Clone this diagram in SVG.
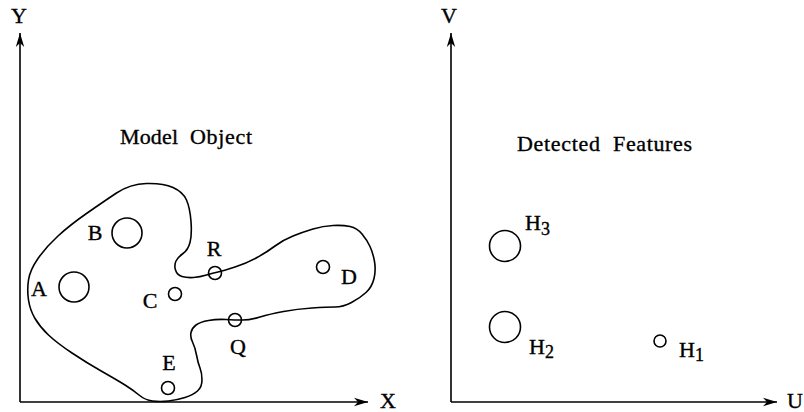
<svg xmlns="http://www.w3.org/2000/svg" width="804" height="412" viewBox="0 0 804 412">
<style>
text{font-family:"Liberation Serif","Times New Roman",serif;fill:#000;stroke:#000;stroke-width:0.35}
.lbl{font-size:22px;text-anchor:middle}
.hl{font-size:22px}
.sub{font-size:18px}
.ttl{font-size:22px}
.ax{stroke:#000;stroke-width:1.6;fill:none}
.c{stroke:#000;stroke-width:1.6;fill:none}
</style>
<defs>
<marker id="arr" markerUnits="userSpaceOnUse" markerWidth="16" markerHeight="12" refX="14" refY="5" orient="auto" viewBox="0 0 16 10">
<path d="M14,5 L0,0.8 L4,5 L0,9.2 Z" fill="#000"/>
</marker>
</defs>
<g id="axes">
<line class="ax" x1="20" y1="402" x2="20" y2="33" marker-end="url(#arr)"/>
<line class="ax" x1="20" y1="402" x2="368" y2="402" marker-end="url(#arr)"/>
<line class="ax" x1="451" y1="402" x2="451" y2="33" marker-end="url(#arr)"/>
<line class="ax" x1="451" y1="402" x2="777" y2="402" marker-end="url(#arr)"/>
<text class="lbl" x="19" y="23">Y</text>
<text class="lbl" x="388" y="408">X</text>
<text class="lbl" x="795" y="408">U</text>
<text class="lbl" x="449" y="23">V</text>
</g>
<g id="model-object">
<path class="c" d="M152.5,401 Q145,400 139,395 Q133,390 125,385 Q117,380 102,371.5 Q87,363 72,353 Q57,343 48.5,335 Q40,327 35,318.5 Q30,310 28.5,300 Q27,290 28.5,280 Q30,270 38,258.5 Q46,247 58,236 Q70,225 86.5,213.5 Q103,202 116.5,193 Q130,184 146.5,183.5 Q163,183 173,187.5 Q183,192 186.5,200 Q190,208 191,221.5 Q192,235 190,242.5 Q188,250 183,253.5 Q178,257 176,261 Q174,265 175.5,270 Q177,275 182,276.5 Q187,278 193.5,277.5 Q200,277 206.5,275 Q213,273 218,272 Q223,271 235,267 Q247,263 257,257.5 Q267,252 275,246 Q283,240 293,236 Q303,232 313,229 Q323,226 333,225.5 Q343,225 350,226.5 Q357,228 362,234 Q367,240 370,246.5 Q373,253 374.5,261.5 Q376,270 374,278.5 Q372,287 366,292.5 Q360,298 351.5,302.5 Q343,307 335,307 Q327,307 312,308 Q297,309 283.5,311.5 Q270,314 260,317 Q250,320 242.5,320 Q235,320 226,319.5 Q217,319 208.5,320.5 Q200,322 196,325 Q192,328 191,332.5 Q190,337 192.5,342 Q195,347 196.5,355 Q198,363 200,368 Q202,373 202,380 Q202,387 197.5,391 Q193,395 185,397.5 Q177,400 168.5,401 Q160,402 152.5,401 Z"/>
<text class="ttl" y="144"><tspan x="120" textLength="58" lengthAdjust="spacing">Model</tspan><tspan x="190" textLength="62" lengthAdjust="spacing">Object</tspan></text>
</g>
<g id="A"><circle class="c" cx="74" cy="287" r="15"/><text class="lbl" x="39" y="296">A</text></g>
<g id="B"><circle class="c" cx="127" cy="233" r="15"/><text class="lbl" x="95" y="240">B</text></g>
<g id="C"><circle class="c" cx="175" cy="294" r="6.5"/><text class="lbl" x="150" y="308">C</text></g>
<g id="R"><circle class="c" cx="215" cy="273" r="6.5"/><text class="lbl" x="214" y="256">R</text></g>
<g id="D"><circle class="c" cx="323" cy="267" r="6.5"/><text class="lbl" x="349" y="284">D</text></g>
<g id="Q"><circle class="c" cx="235" cy="320" r="6.5"/><text class="lbl" x="238" y="354">Q</text></g>
<g id="E"><circle class="c" cx="168" cy="388" r="6.5"/><text class="lbl" x="169" y="370">E</text></g>
<g id="detected-features">
<text class="ttl" y="151"><tspan x="517" textLength="83" lengthAdjust="spacing">Detected</tspan><tspan x="613" textLength="79" lengthAdjust="spacing">Features</tspan></text>
</g>
<g id="H3"><circle class="c" cx="505" cy="246" r="15.5"/><text class="hl" x="525" y="230">H<tspan class="sub" dy="5">3</tspan></text></g>
<g id="H2"><circle class="c" cx="505" cy="327" r="15.5"/><text class="hl" x="529" y="354">H<tspan class="sub" dy="4">2</tspan></text></g>
<g id="H1"><circle class="c" cx="660" cy="341" r="6"/><text class="hl" x="679" y="357">H<tspan class="sub" dy="4">1</tspan></text></g>
</svg>
